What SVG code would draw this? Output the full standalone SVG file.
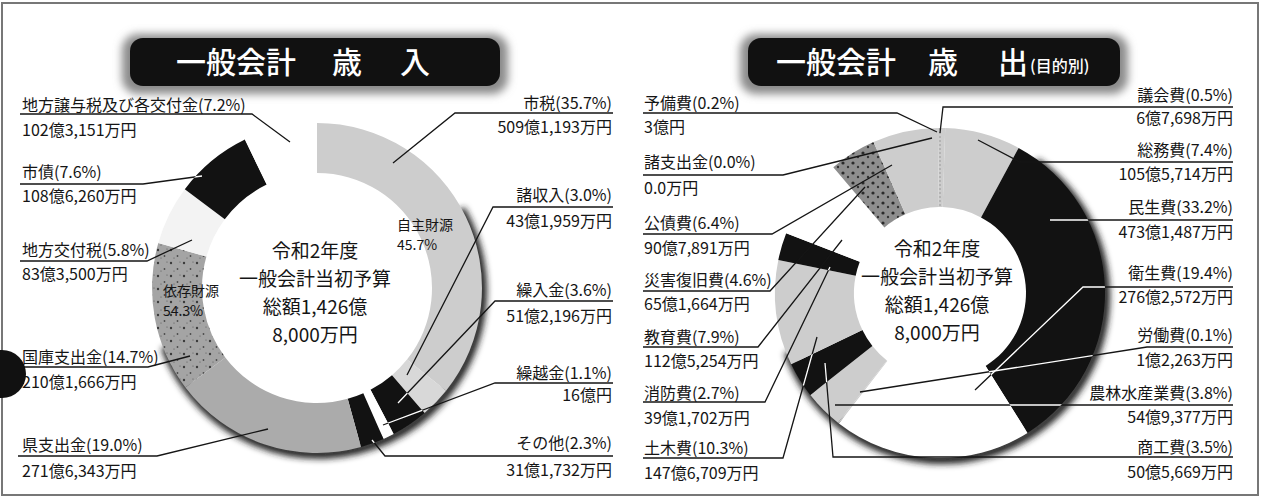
<svg xmlns="http://www.w3.org/2000/svg" xmlns:xlink="http://www.w3.org/1999/xlink" width="1261" height="499" viewBox="0 0 1261 499">
<style>
text { font-family: "Noto Sans CJK JP", "Noto Sans", sans-serif; fill: #151515; }
.lb { font-size: 16px; }
.r { text-anchor: end; }
.ctr { font-size: 19px; text-anchor: middle; }
.src { font-size: 14px; }
.ttl { font-size: 30px; fill: #ffffff; font-weight: 500; }
.ttls { font-size: 16px; fill: #ffffff; }
.ldr { stroke: #151515; stroke-width: 1.3; fill: none; }
.ldrw { stroke: #ffffff; stroke-width: 1.3; fill: none; }
.lt { fill: #cdcdcd; }
.lt2 { fill: #d8d8d8; }
.md { fill: #ababab; }
.bk { fill: #121212; }
.wh { fill: #ffffff; }
.vl { fill: #f3f3f3; }
</style>
<defs>
<filter id="halo" x="-20%" y="-60%" width="140%" height="220%"><feGaussianBlur stdDeviation="4"/></filter>
<filter id="sh" x="-20%" y="-20%" width="140%" height="140%"><feGaussianBlur stdDeviation="3"/></filter>
<pattern id="speck" width="13" height="13" patternUnits="userSpaceOnUse">
<rect width="13" height="13" fill="#a4a4a4"/>
<circle cx="2" cy="3" r="1.2" fill="#3a3a3a"/>
<circle cx="8.5" cy="9" r="0.9" fill="#4a4a4a"/>
<circle cx="11" cy="2" r="0.6" fill="#555"/>
<circle cx="5" cy="11" r="0.5" fill="#444"/>
</pattern>
<pattern id="speck2" width="10" height="10" patternUnits="userSpaceOnUse">
<rect width="10" height="10" fill="#8e8e8e"/>
<circle cx="3" cy="3" r="1.6" fill="#2a2a2a"/>
<circle cx="8" cy="7" r="1.2" fill="#333"/>
</pattern>
<clipPath id="clipRevBlack">
<use xlink:href="#seg-kuriire"/><use xlink:href="#seg-sonota"/><use xlink:href="#seg-shisai"/>
</clipPath>
<clipPath id="clipExpBlack">
<use xlink:href="#seg-minsei"/><use xlink:href="#seg-shoko"/><use xlink:href="#seg-shobo"/>
</clipPath>
</defs>

<rect x="0" y="0" width="1261" height="499" fill="#ffffff"/>
<rect x="2" y="3" width="1256" height="492" fill="none" stroke="#777" stroke-width="2"/>

<!-- titles -->
<g id="title-revenue">
<rect x="122" y="34" width="386" height="60" rx="16" fill="#8a8a8a" filter="url(#halo)"/>
<rect x="130" y="38" width="370" height="48" rx="13" fill="#111"/>
<text class="ttl" y="73"><tspan x="176">一般会計</tspan><tspan x="332">歳</tspan><tspan x="400">入</tspan></text>
</g>
<g id="title-expenditure">
<rect x="740" y="34" width="388" height="60" rx="16" fill="#8a8a8a" filter="url(#halo)"/>
<rect x="748" y="38" width="372" height="48" rx="13" fill="#111"/>
<text class="ttl" y="73"><tspan x="776">一般会計</tspan><tspan x="928">歳</tspan><tspan x="998">出</tspan><tspan class="ttls" x="1030" dy="-1">(目的別)</tspan></text>
</g>

<!-- shadows -->
<path d="M458.2,206.5 A163,163 0 1 1 163.8,343.7" fill="none" stroke="#222" stroke-width="10" filter="url(#sh)" transform="translate(2,3)"/>
<path d="M1033.5,159.5 A163,163 0 1 1 786.8,348.7" fill="none" stroke="#222" stroke-width="10" filter="url(#sh)" transform="translate(2,3)"/>

<!-- revenue nodes -->
<g id="rev-shizei">
<path class="lt" d="M317,123 A165,165 0 0 1 446.1,390.7 L407,359.6 A115,115 0 0 0 317,173 Z"/>
<text class="lb r" x="612" y="109">市税(35.7%)</text>
<text class="lb r" x="612" y="133">509億1,193万円</text>
</g>
<g id="rev-shoshunyu">
<path class="lt2" d="M446.1,390.7 A165,165 0 0 1 424.5,413.1 L392,375.2 A115,115 0 0 0 407,359.6 Z"/>
<text class="lb r" x="612" y="201">諸収入(3.0%)</text>
<text class="lb r" x="612" y="227">43億1,959万円</text>
</g>
<g id="rev-kuriire">
<path id="seg-kuriire" class="bk" d="M424.5,413.1 A165,165 0 0 1 393.7,434.1 L370.5,389.8 A115,115 0 0 0 392,375.2 Z"/>
<text class="lb r" x="612" y="296">繰入金(3.6%)</text>
<text class="lb r" x="612" y="322">51億2,196万円</text>
</g>
<g id="rev-kurikoshi">
<path class="wh" d="M393.7,434.1 A165,165 0 0 1 383.5,439 L363.3,393.2 A115,115 0 0 0 370.5,389.8 Z"/>
<text class="lb r" x="612" y="379">繰越金(1.1%)</text>
<text class="lb r" x="612" y="401">16億円</text>
</g>
<g id="rev-sonota">
<path id="seg-sonota" class="bk" d="M383.5,439 A165,165 0 0 1 361,447 L347.7,398.8 A115,115 0 0 0 363.3,393.2 Z"/>
<text class="lb r" x="612" y="449">その他(2.3%)</text>
<text class="lb r" x="612" y="476">31億1,732万円</text>
</g>
<g id="rev-ken">
<path class="md" d="M361,447 A165,165 0 0 1 185.4,387.5 L225.3,357.4 A115,115 0 0 0 347.7,398.8 Z"/>
<text class="lb" x="22" y="451">県支出金(19.0%)</text>
<text class="lb" x="22" y="477">271億6,343万円</text>
</g>
<g id="rev-kokko">
<path fill="url(#speck)" d="M185.4,387.5 A165,165 0 0 1 158.3,243 L206.4,256.6 A115,115 0 0 0 225.3,357.4 Z"/>
<text class="lb" x="22" y="363">国庫支出金(14.7%)</text>
<text class="lb" x="22" y="388">210億1,666万円</text>
</g>
<g id="rev-kofuzei">
<path class="vl" d="M158.3,243 A165,165 0 0 1 184.8,189.3 L224.8,219.2 A115,115 0 0 0 206.4,256.6 Z"/>
<text class="lb" x="22" y="256">地方交付税(5.8%)</text>
<text class="lb" x="22" y="280">83億3,500万円</text>
</g>
<g id="rev-shisai">
<path id="seg-shisai" class="bk" d="M184.8,189.3 A165,165 0 0 1 244.9,139.6 L266.7,184.6 A115,115 0 0 0 224.8,219.2 Z"/>
<text class="lb" x="22" y="178">市債(7.6%)</text>
<text class="lb" x="22" y="202">108億6,260万円</text>
</g>
<g id="rev-joyozei">
<path class="wh" d="M244.9,139.6 A165,165 0 0 1 317,123 L317,173 A115,115 0 0 0 266.7,184.6 Z"/>
<text class="lb" x="22" y="111">地方譲与税及び各交付金(7.2%)</text>
<text class="lb" x="22" y="136">102億3,151万円</text>
</g>

<!-- expenditure nodes -->
<g id="exp-gikai">
<path class="lt" d="M940,128 A165,165 0 0 1 945.2,128.1 L942.7,207 A86,86 0 0 0 940,207 Z"/>
<text class="lb r" x="1233" y="101">議会費(0.5%)</text>
<text class="lb r" x="1233" y="124">6億7,698万円</text>
</g>
<g id="exp-somu">
<path class="lt" d="M945.2,128.1 A165,165 0 0 1 1018.6,147.9 L981,217.4 A86,86 0 0 0 942.7,207 Z"/>
<text class="lb r" x="1233" y="156">総務費(7.4%)</text>
<text class="lb r" x="1233" y="180">105億5,714万円</text>
</g>
<g id="exp-minsei">
<path id="seg-minsei" class="bk" d="M1018.6,147.9 A165,165 0 0 1 1027.5,432.9 L985.6,365.9 A86,86 0 0 0 981,217.4 Z"/>
<text class="lb r" x="1233" y="213">民生費(33.2%)</text>
<text class="lb r" x="1233" y="238">473億1,487万円</text>
</g>
<g id="exp-eisei">
<path class="wh" d="M1027.5,432.9 A165,165 0 0 1 838.9,423.4 L887.3,361 A86,86 0 0 0 985.6,365.9 Z"/>
<text class="lb r" x="1233" y="279">衛生費(19.4%)</text>
<text class="lb r" x="1233" y="303">276億2,572万円</text>
</g>
<g id="exp-rodo">
<path class="lt" d="M838.9,423.4 A165,165 0 0 1 838,422.7 L886.9,360.6 A86,86 0 0 0 887.3,361 Z"/>
<text class="lb r" x="1233" y="341">労働費(0.1%)</text>
<text class="lb r" x="1233" y="366">1億2,263万円</text>
</g>
<g id="exp-norin">
<path class="lt" d="M838,422.7 A165,165 0 0 1 810.3,395 L872.4,346.1 A86,86 0 0 0 886.9,360.6 Z"/>
<text class="lb r" x="1233" y="399">農林水産業費(3.8%)</text>
<text class="lb r" x="1233" y="423">54億9,377万円</text>
</g>
<g id="exp-shoko">
<path id="seg-shoko" class="bk" d="M810.3,395 A165,165 0 0 1 791.2,364.2 L862.4,330.1 A86,86 0 0 0 872.4,346.1 Z"/>
<text class="lb r" x="1233" y="453">商工費(3.5%)</text>
<text class="lb r" x="1233" y="478">50億5,669万円</text>
</g>
<g id="exp-doboku">
<path class="lt" d="M791.2,364.2 A165,165 0 0 1 778.3,260 L855.7,275.8 A86,86 0 0 0 862.4,330.1 Z"/>
<text class="lb" x="644" y="454">土木費(10.3%)</text>
<text class="lb" x="644" y="479">147億6,709万円</text>
</g>
<g id="exp-shobo">
<path id="seg-shobo" class="bk" d="M778.3,260 A165,165 0 0 1 786.2,233.2 L859.8,261.8 A86,86 0 0 0 855.7,275.8 Z"/>
<text class="lb" x="644" y="399">消防費(2.7%)</text>
<text class="lb" x="644" y="424">39億1,702万円</text>
</g>
<g id="exp-kyoiku">
<path class="wh" d="M786.2,233.2 A165,165 0 0 1 833.3,167.2 L884.4,227.4 A86,86 0 0 0 859.8,261.8 Z"/>
<text class="lb" x="644" y="343">教育費(7.9%)</text>
<text class="lb" x="644" y="367">112億5,254万円</text>
</g>
<g id="exp-saigai">
<path fill="url(#speck2)" d="M833.3,167.2 A165,165 0 0 1 873.5,142 L905.4,214.3 A86,86 0 0 0 884.4,227.4 Z"/>
<text class="lb" x="644" y="286">災害復旧費(4.6%)</text>
<text class="lb" x="644" y="310">65億1,664万円</text>
</g>
<g id="exp-kosai">
<path class="lt" d="M873.5,142 A165,165 0 0 1 937.9,128 L938.9,207 A86,86 0 0 0 905.4,214.3 Z"/>
<text class="lb" x="644" y="229">公債費(6.4%)</text>
<text class="lb" x="644" y="254">90億7,891万円</text>
</g>
<g id="exp-shishutsu">
<text class="lb" x="644" y="168">諸支出金(0.0%)</text>
<text class="lb" x="644" y="194">0.0万円</text>
</g>
<g id="exp-yobi">
<path class="lt" d="M937.9,128 A165,165 0 0 1 940,128 L940,207 A86,86 0 0 0 938.9,207 Z"/>
<text class="lb" x="644" y="109">予備費(0.2%)</text>
<text class="lb" x="644" y="133">3億円</text>
</g>
<line x1="940" y1="128" x2="940" y2="207" stroke="#9a9a9a" stroke-width="1" stroke-dasharray="2,2"/>

<!-- connectors -->
<g id="connectors">
<g id="leaders-black">
<polyline class="ldr" points="20,114 252,114 290,142"/>
<polyline class="ldr" points="20,184 143,184 202,176"/>
<polyline class="ldr" points="20,261 147,261 192,240"/>
<polyline class="ldr" points="20,367 148,367 190,356"/>
<polyline class="ldr" points="18,456 157,456 268,429"/>
<polyline class="ldr" points="613,113 455,113 393,163"/>
<polyline class="ldr" points="613,207 493,207 407,375"/>
<polyline class="ldr" points="613,301 495,301 398,403"/>
<polyline class="ldr" points="613,383 495,383 383,425"/>
<polyline class="ldr" points="613,456 385,456 372,440"/>
<polyline class="ldr" points="643,113 897,113 937,132"/>
<polyline class="ldr" points="643,175 783,175 932,138"/>
<polyline class="ldr" points="643,234 772,234 892,165"/>
<polyline class="ldr" points="643,291 770,291 865,187"/>
<polyline class="ldr" points="643,347 758,347 842,240"/>
<polyline class="ldr" points="643,402 765,402 830,267"/>
<polyline class="ldr" points="643,458 783,458 817,337"/>
<polyline class="ldr" points="1233,107 943,107 940,133"/>
<polyline class="ldr" points="1233,162 1020,162 978,140"/>
<polyline class="ldr" points="1233,220 1050,220"/>
<polyline class="ldr" points="1233,287 1083,287 975,390"/>
<polyline class="ldr" points="1233,347 1147,347 860,392"/>
<polyline class="ldr" points="1233,405 835,405"/>
<polyline class="ldr" points="1233,457 833,457 825,363"/>
</g>
<g id="leaders-white-rev" clip-path="url(#clipRevBlack)">
<polyline class="ldrw" points="613,301 495,301 398,403"/>
<polyline class="ldrw" points="613,383 495,383 383,425"/>
<polyline class="ldrw" points="613,456 385,456 372,440"/>
<polyline class="ldrw" points="20,184 143,184 202,176"/>
</g>
<g id="leaders-white-exp" clip-path="url(#clipExpBlack)">
<polyline class="ldrw" points="1233,220 1050,220"/>
<polyline class="ldrw" points="1233,287 1083,287 975,390"/>
<polyline class="ldrw" points="1233,347 1147,347 860,392"/>
<polyline class="ldrw" points="1233,405 835,405"/>
<polyline class="ldrw" points="1233,457 833,457 825,363"/>
<polyline class="ldrw" points="643,402 765,402 830,267"/>
<polyline class="ldrw" points="643,458 783,458 817,337"/>
</g>
</g>

<!-- inner texts -->
<g id="rev-groups">
<text class="src" x="397" y="230">自主財源</text>
<text class="src" x="397" y="250">45.7%</text>
<text class="src" x="163" y="296">依存財源</text>
<text class="src" x="163" y="316">54.3%</text>
</g>
<g id="rev-center">
<text class="ctr" x="315" y="258">令和2年度</text>
<text class="ctr" x="315" y="286">一般会計当初予算</text>
<text class="ctr" x="315" y="314">総額1,426億</text>
<text class="ctr" x="315" y="342">8,000万円</text>
</g>
<g id="exp-center">
<text class="ctr" x="937" y="256">令和2年度</text>
<text class="ctr" x="937" y="284">一般会計当初予算</text>
<text class="ctr" x="937" y="312">総額1,426億</text>
<text class="ctr" x="937" y="340">8,000万円</text>
</g>

<circle cx="2" cy="374" r="24" fill="#111"/>
</svg>
